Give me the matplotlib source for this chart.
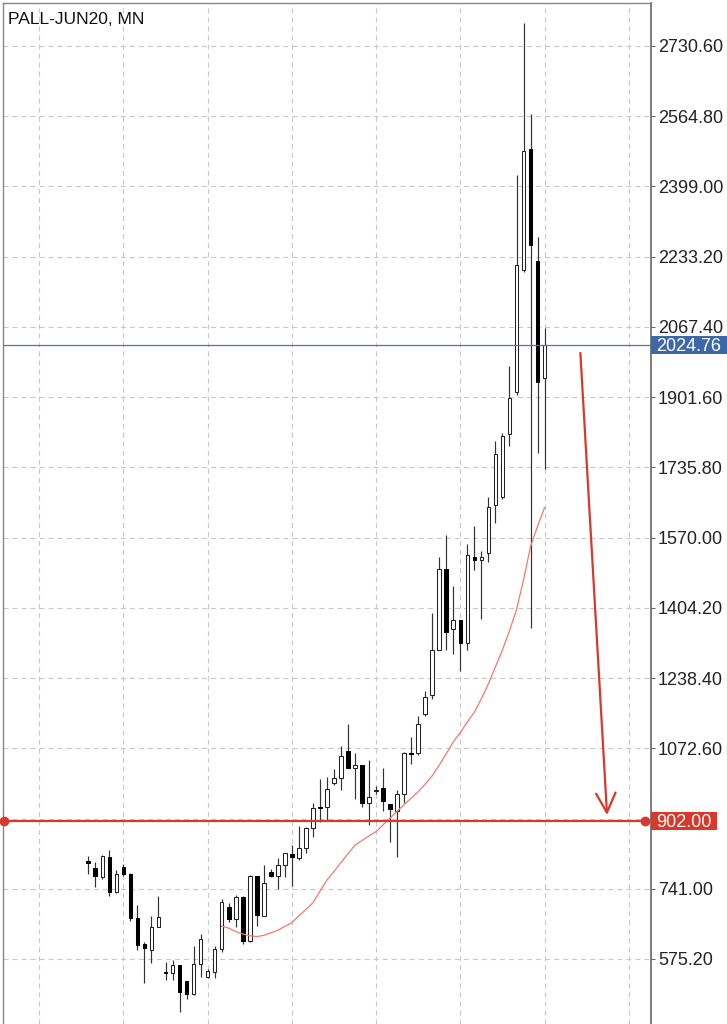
import matplotlib
matplotlib.use('Agg')
import matplotlib.pyplot as plt
from matplotlib.patches import Rectangle
from matplotlib.transforms import blended_transform_factory
import numpy as np

plt.rcParams['font.family'] = ['Liberation Sans', 'DejaVu Sans']
plt.rcParams['lines.scale_dashes'] = False

title = "PALL-JUN20, MN"

opens = [806, 789, 768, 817, 734, 792, 776, 671, 610, 597,
         651, 545, 543, 561, 523, 492, 563, 532, 545, 599,
         699, 670, 721, 618, 770, 677, 781, 770, 797, 823,
         813, 837, 884, 935, 933, 990, 1002, 1066, 1027, 1033,
         944, 972, 978, 941, 925, 965, 1062, 1062, 1154, 1198,
         1305, 1495, 1354, 1376, 1322, 1525, 1517, 1534, 1647, 1667,
         1815, 1913, 2202, 2487, 2224, 1946]
highs = [819, 805, 820, 833, 785, 799, 778, 703, 615, 677,
         724, 569, 573, 562, 524, 606, 634, 551, 606, 716,
         707, 726, 724, 773, 771, 797, 787, 813, 826, 844,
         888, 887, 944, 1000, 1004, 1023, 1078, 1130, 1061, 1034,
         1045, 984, 1025, 941, 974, 1065, 1100, 1150, 1207, 1393,
         1524, 1576, 1456, 1376, 1555, 1597, 1539, 1667, 1797, 1818,
         1974, 2426, 2786, 2570, 2280, 2066]
lows = [775, 746, 763, 724, 730, 771, 666, 596, 519, 566,
        651, 526, 526, 451, 480, 490, 533, 531, 530, 591,
        663, 650, 611, 616, 653, 676, 768, 740, 768, 748,
        809, 825, 862, 899, 903, 986, 974, 1025, 953, 933,
        892, 965, 925, 852, 817, 943, 1036, 1057, 1148, 1188,
        1304, 1305, 1295, 1256, 1305, 1494, 1377, 1513, 1605, 1660,
        1786, 1907, 2198, 1356, 1770, 1731]
closes = [801, 771, 818, 734, 776, 776, 671, 608, 600, 651,
          674, 542, 560, 498, 493, 563, 622, 547, 599, 710,
          670, 722, 618, 771, 679, 754, 770, 797, 825, 815,
          837, 884, 931, 932, 976, 1002, 1054, 1025, 1033, 944,
          957, 975, 947, 929, 965, 1061, 1060, 1130, 1193, 1305,
          1495, 1348, 1376, 1320, 1529, 1517, 1525, 1643, 1767, 1811,
          1899, 2214, 2483, 2261, 1938, 2025]

ma_start = 19
ma_values = [653, 648, 640, 634, 630, 628, 631, 637, 643, 652,
             661, 677, 692, 708, 735, 762, 782, 803, 824, 844,
             855, 866, 876, 892, 908, 924, 940, 955, 970, 988,
             1008, 1033, 1060, 1088, 1110, 1135, 1158, 1190, 1225, 1265,
             1305, 1350, 1400, 1470, 1549, 1597, 1641]

y_ticks = [575.20, 741.00, 906.80, 1072.60, 1238.40, 1404.20, 1570.00,
           1735.80, 1901.60, 2067.40, 2233.20, 2399.00, 2564.80, 2730.60]
hidden_tick = 906.80
year_grid = [-7, 5, 17, 29, 41, 53, 65, 77]
current_price = 2024.76
level_price = 902.00
level_span = (-12.0, 79.3)
arrow_start = (70.1, 2006)
arrow_end = (73.9, 915)

RED = '#d9392c'
BLUE_LINE = '#4d74b3'
BLUE_BOX = '#3d68a8'
GRID = '#c8c8c8'

W, H = 727, 1024
fig = plt.figure(figsize=(W / 100, H / 100), dpi=100)
ax_w_px, ax_h_px = 648, 1021
ax = fig.add_axes([3 / W, 0, ax_w_px / W, ax_h_px / H])
ax.set_xlim(-12.15, 80.16)
ax.set_ylim(421.7, 2832.1)

for t in y_ticks:
    ax.axhline(t, color=GRID, lw=0.8, dashes=(3.6, 2.9), zorder=0)
for v in year_grid:
    ax.axvline(v, color=GRID, lw=0.8, dashes=(3.6, 2.9), zorder=0)

idx = np.arange(len(opens))
o = np.array(opens, dtype=float)
h = np.array(highs, dtype=float)
l = np.array(lows, dtype=float)
c = np.array(closes, dtype=float)
up = c >= o
bottoms = np.minimum(o, c)
heights = np.abs(c - o)

ax.vlines(idx, l, h, color='#333333', lw=0.85, zorder=2)
ax.bar(idx[up], heights[up], bottom=bottoms[up], width=0.52,
       facecolor='white', edgecolor='#222222', linewidth=0.75, zorder=3)
ax.bar(idx[~up], heights[~up], bottom=bottoms[~up], width=0.52,
       facecolor='black', edgecolor='black', linewidth=0.75, zorder=3)

ma_x = np.arange(ma_start, ma_start + len(ma_values))
ax.plot(ma_x, ma_values, color='#f27a6e', lw=0.9, zorder=4)

ax.axhline(current_price, color=BLUE_LINE, lw=0.9, zorder=5)

ax.plot(level_span, [level_price, level_price], color=RED, lw=1.6,
        marker='o', ms=6, clip_on=False, zorder=6)

ax.annotate('', xy=arrow_end, xytext=arrow_start,
            arrowprops=dict(arrowstyle='->,head_length=0.7,head_width=0.35',
                            color=RED, lw=1.6, shrinkA=0, shrinkB=0,
                            mutation_scale=20), zorder=7)

ax.yaxis.tick_right()
ax.set_yticks(y_ticks)
ax.set_yticklabels(['' if t == hidden_tick else f'{t:.2f}' for t in y_ticks],
                   fontsize=13, color='#222222')
ax.tick_params(axis='y', length=3, width=0.8, color='#666666', pad=2)
ax.set_xticks([])

ax.spines['bottom'].set_visible(False)
for s in ['top', 'left']:
    ax.spines[s].set_color('#888888')
    ax.spines[s].set_linewidth(1.0)
ax.spines['right'].set_color('#666666')
ax.spines['right'].set_linewidth(1.2)

trans = blended_transform_factory(ax.transAxes, ax.transData)
half = 9 * (2832.1 - 421.7) / ax_h_px

ax.add_patch(Rectangle((1.0, current_price - half), (W - 3) / ax_w_px - 1.0, 2 * half,
                       transform=trans, facecolor=BLUE_BOX, edgecolor='none',
                       clip_on=False, zorder=10))
ax.text(1.0 + 5 / ax_w_px, current_price, f'{current_price:.2f}', transform=trans,
        color='white', fontsize=13, va='center_baseline', ha='left', zorder=11, clip_on=False)

ax.add_patch(Rectangle((1.0, level_price - half), 66 / ax_w_px, 2 * half,
                       transform=trans, facecolor=RED, edgecolor='none',
                       clip_on=False, zorder=10))
ax.text(1.0 + 5 / ax_w_px, level_price, f'{level_price:.2f}', transform=trans,
        color='white', fontsize=13, va='center_baseline', ha='left', zorder=11, clip_on=False)

ax.text(5 / ax_w_px, 1 - (24 - 3) / ax_h_px, title, transform=ax.transAxes,
        fontsize=12.5, color='#111111', va='baseline', ha='left')

fig.savefig('out.png', dpi=100)
